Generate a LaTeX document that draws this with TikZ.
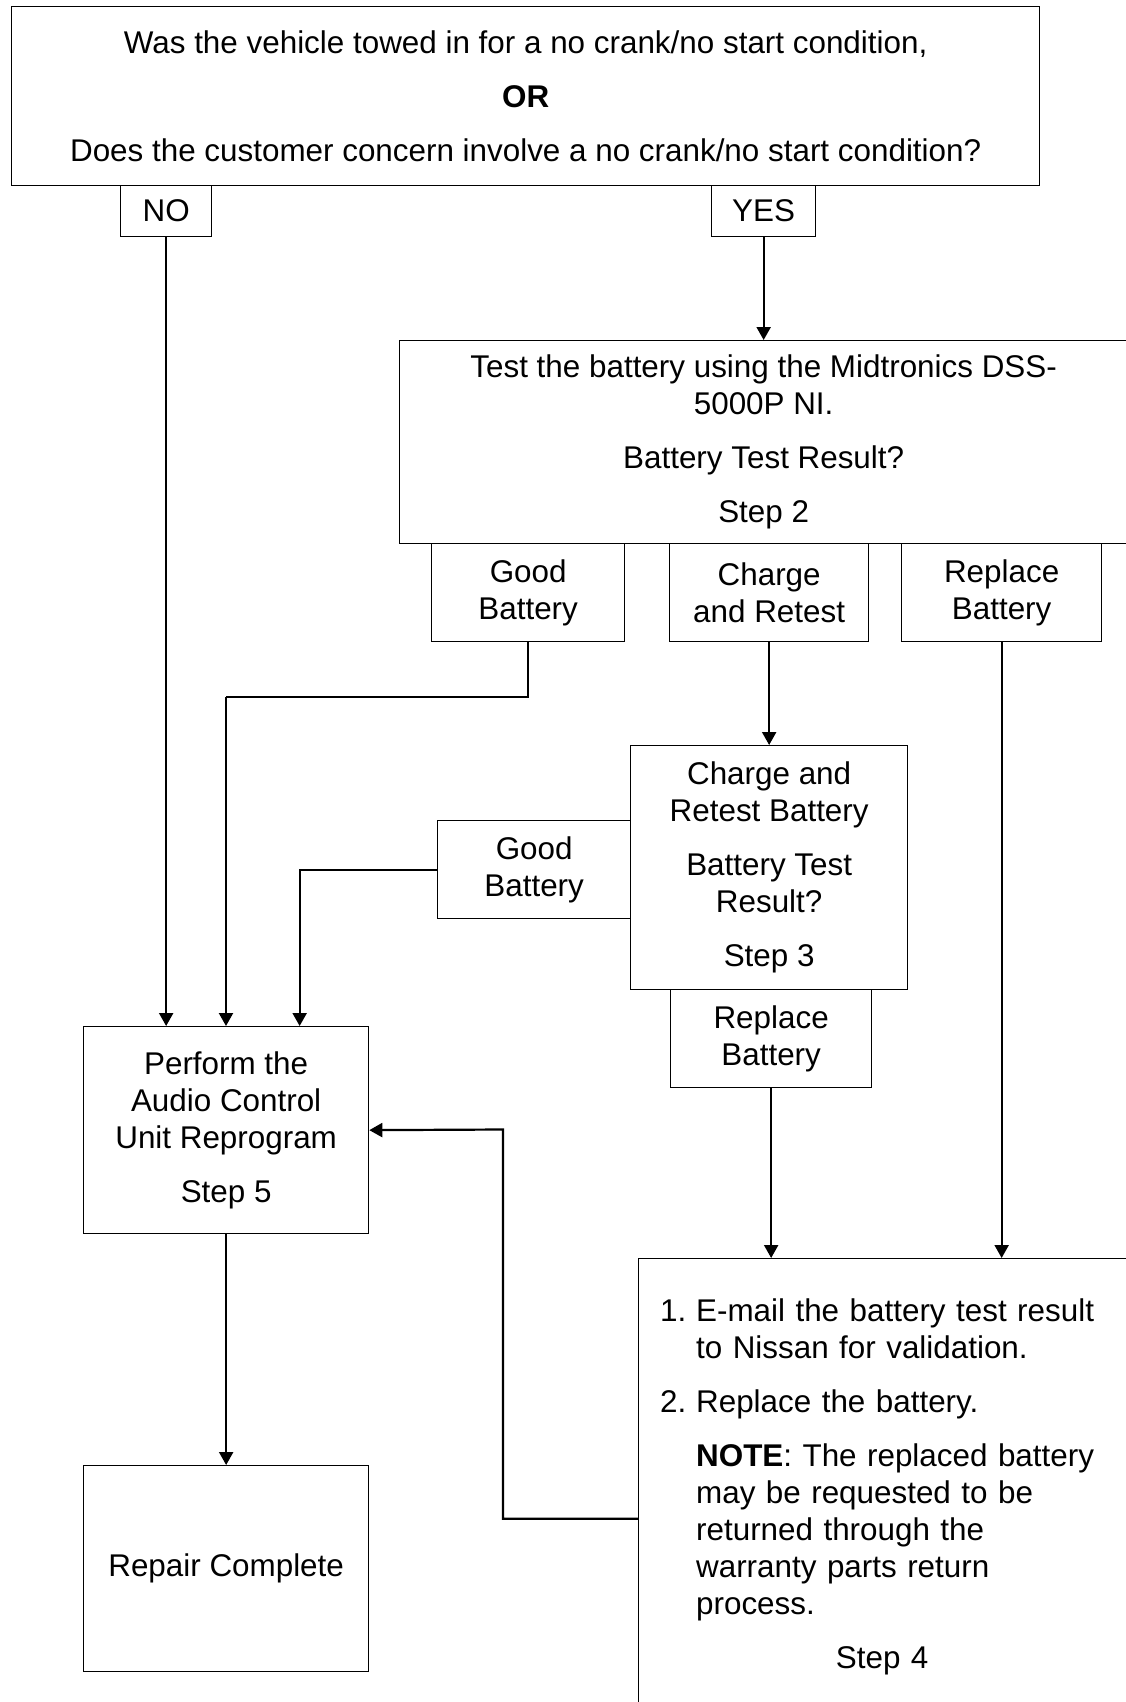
\documentclass[tikz,border=0pt]{standalone}
\usepackage{fontspec}
\setmainfont{Liberation Sans}
\usetikzlibrary{arrows.meta}
\newcommand\boxfont{\fontsize{15.7}{18.5}\selectfont}

\begin{document}
\begin{tikzpicture}[x=0.5pt, y=-0.5pt,
  box/.style={draw, line width=0.65pt, rectangle, align=center, inner sep=0pt, anchor=north west, font=\boxfont},
  tab/.style={box, minimum height=49pt},
  arr/.style={line width=1.1pt, -{Triangle[width=7pt,length=6.5pt]}},
  link/.style={line width=1.1pt}]
\useasboundingbox (0,0) rectangle (1125,1702);
\node[box, minimum width=514pt, minimum height=89.5pt] (q) at (11,6)
  {Was the vehicle towed in for a no crank/no start condition,\\[8.5pt]\textbf{OR}\\[8.5pt]Does the customer concern involve a no crank/no start condition?};
\node[box, minimum width=45.5pt, minimum height=25.5pt] (no) at (120,185) {NO};
\node[box, minimum width=52pt, minimum height=25.5pt] (yes) at (711,185) {YES};
\node[box, minimum width=364pt, minimum height=101.5pt] (s2) at (399,340)
  {Test the battery using the Midtronics DSS-\\5000P NI.\\[8.5pt]Battery Test Result?\\[8.5pt]Step 2};
\node[tab, minimum width=96.5pt] (good1) at (431,543) {Good\\Battery};
\node[tab, minimum width=99.5pt] (charge) at (669,543) {Charge\\and Retest};
\node[tab, minimum width=100pt] (repl1) at (901,543) {Replace\\Battery};
\node[box, minimum width=138.5pt, minimum height=122pt] (s3) at (630,745)
  {Charge and\\Retest Battery\\[8.5pt]Battery Test\\Result?\\[8.5pt]Step 3};
\node[tab, minimum width=96.5pt] (good2) at (437,820) {Good\\Battery};
\node[tab, minimum width=100.5pt] (repl2) at (670,989) {Replace\\Battery};
\node[box, minimum width=247.5pt, minimum height=228pt, text width=226pt, inner xsep=10.75pt, align=left] (s4) at (638,1258)
  {\makebox[18pt][l]{1.}E-mail the battery test result\\
   \hspace*{18pt}to Nissan for validation.\\[8.5pt]
   \makebox[18pt][l]{2.}Replace the battery.\\[8.5pt]
   \hspace*{18pt}\textbf{NOTE}: The replaced battery\\
   \hspace*{18pt}may be requested to be\\
   \hspace*{18pt}returned through the\\
   \hspace*{18pt}warranty parts return\\
   \hspace*{18pt}process.\\[8.5pt]
   \makebox[222pt]{Step 4}};
\node[box, minimum width=142.5pt, minimum height=103.5pt] (s5) at (83,1026)
  {Perform the\\Audio Control\\Unit Reprogram\\[8.5pt]Step 5};
\node[box, minimum width=142.5pt, minimum height=103pt] (done) at (83,1465) {Repair Complete};
\coordinate (k1) at (226,697);
\coordinate (k2) at (503,1129.5);
\draw[arr] (no) -- (no |- s5.north);
\draw[arr] (yes) -- (yes |- s2.north);
\draw[link] (good1.south) |- (k1);
\draw[arr] (k1) -- (k1 |- s5.north);
\draw[arr] (charge) -- (charge |- s3.north);
\draw[arr] (good2.west) -| ([xshift=36.75pt]s5.north);
\draw[arr] (repl2) -- (repl2 |- s4.north);
\draw[arr] (repl1) -- (repl1 |- s4.north);
\draw[arr] ([yshift=-16pt]s4.west) -| (k2) -- (s5.east);
\draw[arr] (s5) -- (done);
\end{tikzpicture}
\end{document}
